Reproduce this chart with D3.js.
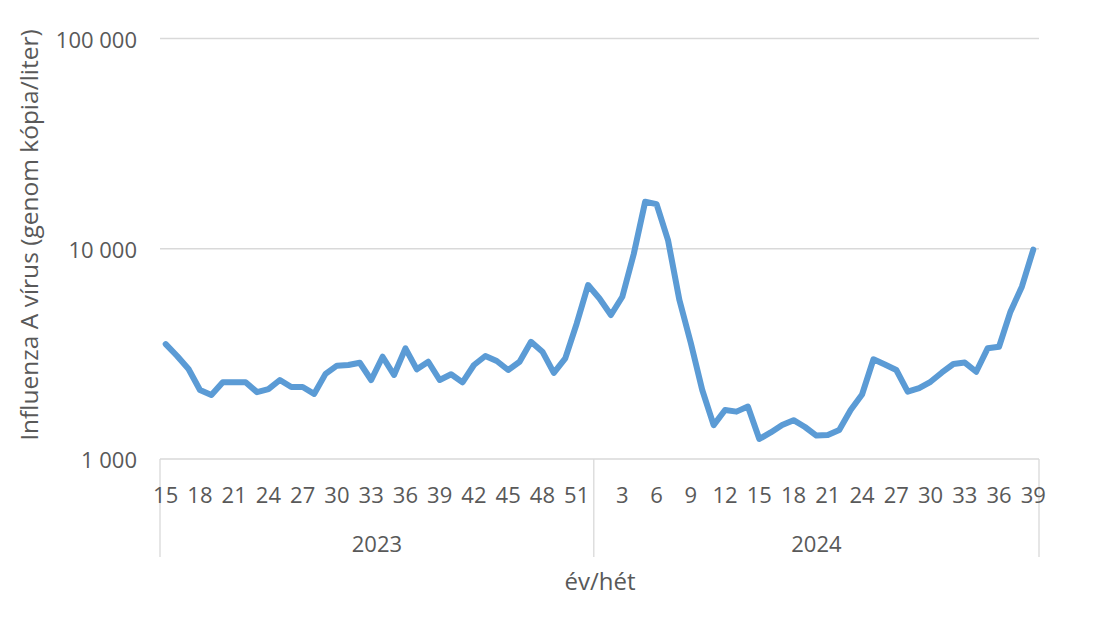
<!DOCTYPE html>
<html>
<head>
<meta charset="utf-8">
<script src="https://cdn.jsdelivr.net/npm/d3@7"></script>
<style>
  html, body { margin: 0; padding: 0; background: #fff; }
  svg { display: block; }
  text { font-family: "Open Sans", "Noto Sans", sans-serif; fill: #595959; }
</style>
</head>
<body>
<svg id="chart" width="1096" height="618"></svg>
<script>
// ---- data ----
const years = ["2023", "2024"];
const weeks2023 = [15,16,17,18,19,20,21,22,23,24,25,26,27,28,29,30,31,32,33,34,35,36,37,38,39,40,41,42,43,44,45,46,47,48,49,50,51,52];
const weeks2024 = [1,2,3,4,5,6,7,8,9,10,11,12,13,14,15,16,17,18,19,20,21,22,23,24,25,26,27,28,29,30,31,32,33,34,35,36,37,38,39];
const values2023 = [3520,3090,2680,2130,2015,2320,2320,2320,2080,2150,2375,2200,2200,2040,2540,2780,2800,2870,2375,3065,2510,3360,2670,2900,2375,2530,2315,2800,3090,2925,2650,2900,3610,3240,2570,3010,4400,6720];
const values2024 = [5800,4840,5910,9440,16730,16310,11000,5700,3560,2130,1450,1710,1680,1775,1245,1337,1450,1530,1420,1293,1300,1374,1710,2026,2980,2815,2650,2090,2175,2330,2580,2830,2875,2600,3360,3420,5020,6600,9910];
const yTicks = [1000, 10000, 100000];
const yTickLabels = ["1 000", "10 000", "100 000"];
const yTitle = "Influenza A vírus (genom kópia/liter)";
const xTitle = "év/hét";

(function () {
  const rows = [];
  weeks2023.forEach((w, i) => rows.push({ key: "2023-" + w, year: years[0], week: w, value: values2023[i] }));
  weeks2024.forEach((w, i) => rows.push({ key: "2024-" + w, year: years[1], week: w, value: values2024[i] }));

  const svg = d3.select("#chart");
  const pLeft = 160, pRight = 1039, pTop = 38.5, pBottom = 459;

  const x = d3.scaleBand().domain(rows.map(d => d.key)).range([pLeft, pRight]).padding(0);
  const y = d3.scaleLog().domain([1000, 100000]).range([pBottom, pTop]);
  const cx = k => x(k) + x.bandwidth() / 2;

  // gridlines
  svg.append("g").selectAll("line").data(yTicks.slice(1)).join("line")
    .attr("x1", pLeft).attr("x2", pRight)
    .attr("y1", d => y(d)).attr("y2", d => y(d))
    .attr("stroke", "#d9d9d9").attr("stroke-width", 1.3);

  // y tick labels
  svg.append("g").selectAll("text").data(yTicks).join("text")
    .attr("x", 137).attr("y", d => y(d))
    .attr("text-anchor", "end").attr("dominant-baseline", "central")
    .style("font-size", "22px")
    .text((d, i) => yTickLabels[i]);

  // category axis box
  const axisG = svg.append("g").attr("stroke", "#d9d9d9").attr("stroke-width", 1.3);
  axisG.append("line").attr("x1", pLeft).attr("x2", pRight).attr("y1", pBottom).attr("y2", pBottom);
  const firstKey2024 = "2024-" + weeks2024[0];
  const dividers = [pLeft, x(firstKey2024), pRight];
  axisG.selectAll("line.div").data(dividers).join("line").attr("class", "div")
    .attr("x1", d => d).attr("x2", d => d).attr("y1", pBottom).attr("y2", 557);

  // week tick labels
  svg.append("g").selectAll("text").data(rows.filter(d => d.week % 3 === 0)).join("text")
    .attr("x", d => cx(d.key)).attr("y", 494)
    .attr("text-anchor", "middle").attr("dominant-baseline", "central")
    .style("font-size", "22px")
    .text(d => d.week);

  // year labels
  svg.append("g").selectAll("text").data(years).join("text")
    .attr("x", (yr, i) => (dividers[i] + dividers[i + 1]) / 2).attr("y", 543)
    .attr("text-anchor", "middle").attr("dominant-baseline", "central")
    .style("font-size", "22px")
    .text(d => d);

  // axis titles
  svg.append("text").attr("x", 600).attr("y", 580)
    .attr("text-anchor", "middle").attr("dominant-baseline", "central")
    .style("font-size", "24px").text(xTitle);
  svg.append("text").attr("transform", "translate(28,235) rotate(-90)")
    .attr("text-anchor", "middle").attr("dominant-baseline", "central")
    .style("font-size", "24.5px").text(yTitle);

  // line
  const line = d3.line().x(d => cx(d.key)).y(d => y(d.value));
  svg.append("path").datum(rows)
    .attr("d", line)
    .attr("fill", "none")
    .attr("stroke", "#5B9BD5")
    .attr("stroke-width", 6)
    .attr("stroke-linejoin", "round")
    .attr("stroke-linecap", "round");
})();
</script>
</body>
</html>
